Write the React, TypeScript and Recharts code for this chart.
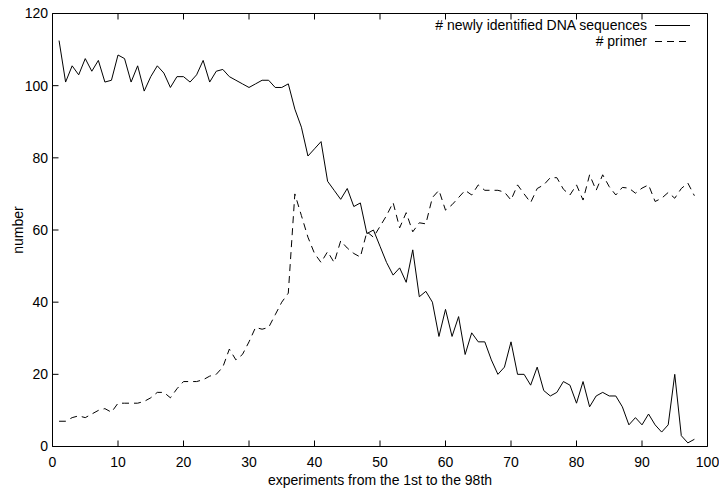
import { LineChart, Line, XAxis, YAxis } from "recharts";

const experiments = Array.from({ length: 98 }, (_, i) => i + 1);

const newlyIdentified = [
  112.5, 101, 105.5, 103, 107.5, 104, 107, 101, 101.5, 108.5,
  107.5, 101, 105.5, 98.5, 102.5, 105.5, 103.5, 99.5, 102.5, 102.5,
  101, 103, 107, 101, 104, 104.5, 102.5, 101.5, 100.5, 99.5,
  100.5, 101.5, 101.5, 99.5, 99.5, 100.5, 93.5, 88.5, 80.5, 82.5,
  84.5, 73.5, 71, 68.5, 71.5, 66.5, 67.5, 59, 60, 55.5,
  51, 47.5, 49.5, 45.5, 54.5, 41.5, 43, 40, 30.5, 38,
  30.5, 36, 25.5, 31.5, 29, 29, 24, 20, 22, 29,
  20, 20, 17, 22, 15.5, 14, 15, 18, 17, 12,
  18, 11, 14, 15, 14, 14, 11, 6, 8, 6,
  9, 6, 4, 6, 20, 3, 1, 2,
];

const primer = [
  7, 7, 8, 8.5, 8, 9, 10, 10.5, 9.5, 12,
  12, 12, 12, 12.5, 13.5, 15, 15, 13.5, 16, 18,
  18, 18, 18.5, 19.5, 20, 22, 27, 24, 25.5, 29,
  33, 32.5, 33, 36.5, 40, 42.5, 70, 64, 58, 53.5,
  51, 54, 51, 57, 55, 53.5, 52.5, 59.5, 58, 61,
  64, 67.6, 60.6, 64.8, 59.5, 62, 61.7, 69, 71, 65.5,
  67, 69, 71, 69.7, 72.5, 71, 71, 71, 70.5, 68.3,
  72.5, 70, 67.6, 71.5, 72.5, 74.5, 74.5, 71.3, 69.7, 72.5,
  68.3, 75.3, 71, 75.3, 72, 69.7, 71.8, 71.6, 70.2, 71.6,
  72.5, 67.9, 68.8, 70.4, 68.8, 71.5, 73, 69.5,
];

const xTicks = [0, 10, 20, 30, 40, 50, 60, 70, 80, 90, 100];
const yTicks = [0, 20, 40, 60, 80, 100, 120];

const data = experiments.map((x, i) => ({
  x,
  newly: newlyIdentified[i],
  primer: primer[i],
}));

const font = "'Liberation Sans', Arial, sans-serif";
const TICK = 6;
const X_MARGIN = 10.5;
const Y_MARGIN = 4.5;

// gnuplot style: tick marks point into the plot
const BottomTick = (p: any) => (
  <g>
    <line x1={p.x} x2={p.x} y1={p.y - X_MARGIN} y2={p.y - X_MARGIN - TICK} stroke="#000" />
    <text x={p.x} y={p.y} dy="0.71em" textAnchor="middle" fontSize={14} fontFamily={font} fill="#000">
      {p.payload.value}
    </text>
  </g>
);

const LeftTick = (p: any) => (
  <g>
    <line x1={p.x + Y_MARGIN} x2={p.x + Y_MARGIN + TICK} y1={p.y} y2={p.y} stroke="#000" />
    <text x={p.x} y={p.y} dy="0.355em" textAnchor="end" fontSize={14} fontFamily={font} fill="#000">
      {p.payload.value}
    </text>
  </g>
);

const TopTick = (p: any) => (
  <line x1={p.x} x2={p.x} y1={p.y} y2={p.y + TICK} stroke="#000" />
);

const RightTick = (p: any) => (
  <line x1={p.x} x2={p.x - TICK} y1={p.y} y2={p.y} stroke="#000" />
);

const yLabel = (props: any) => {
  const vb = props.viewBox;
  const cx = 18;
  const cy = vb.y + vb.height / 2;
  return (
    <text
      x={cx}
      y={cy}
      transform={`rotate(-90 ${cx} ${cy})`}
      textAnchor="middle"
      dominantBaseline="central"
      fontSize={14}
      fontFamily={font}
      fill="#000"
    >
      number
    </text>
  );
};

function LegendRow({ label, dash }: { label: string; dash?: string }) {
  return (
    <div style={{ display: "flex", justifyContent: "flex-end", alignItems: "center", height: 16 }}>
      <span style={{ fontSize: 14, fontFamily: font, color: "#000", lineHeight: "16px" }}>{label}</span>
      <svg width={43} height={16} style={{ display: "block" }}>
        <line x1={8} x2={43} y1={8.5} y2={8.5} stroke="#000" strokeWidth={1} strokeDasharray={dash} />
      </svg>
    </div>
  );
}

export default function App() {
  return (
    <div style={{ position: "absolute", left: 0, top: 0, width: 719, height: 492, background: "#fff" }}>
      <LineChart
        width={719}
        height={492}
        data={data}
        margin={{ top: 12.5, right: 10.5, left: 0, bottom: 0 }}
      >
        <XAxis
          dataKey="x"
          type="number"
          domain={[0, 100]}
          ticks={xTicks}
          interval={0}
          height={45.5}
          tickSize={0}
          tickMargin={X_MARGIN}
          tickLine={false}
          tick={BottomTick}
          stroke="#000"
          label={{
            value: "experiments from the 1st to the 98th",
            position: "insideBottom",
            offset: 7,
            fill: "#000",
            fontSize: 14,
            fontFamily: font,
          }}
        />
        <XAxis
          xAxisId="top"
          orientation="top"
          dataKey="x"
          type="number"
          domain={[0, 100]}
          ticks={xTicks}
          interval={0}
          height={1}
          tickSize={0}
          tickMargin={0}
          tickLine={false}
          tick={TopTick}
          stroke="#000"
        />
        <YAxis
          type="number"
          domain={[0, 120]}
          ticks={yTicks}
          interval={0}
          width={52.5}
          tickSize={0}
          tickMargin={Y_MARGIN}
          tickLine={false}
          tick={LeftTick}
          stroke="#000"
          label={yLabel}
        />
        <YAxis
          yAxisId="right"
          orientation="right"
          type="number"
          domain={[0, 120]}
          ticks={yTicks}
          interval={0}
          width={1}
          tickSize={0}
          tickMargin={0}
          tickLine={false}
          tick={RightTick}
          stroke="#000"
        />
        <Line
          type="linear"
          dataKey="newly"
          stroke="#000"
          strokeWidth={1}
          dot={false}
          isAnimationActive={false}
        />
        <Line
          type="linear"
          dataKey="primer"
          stroke="#000"
          strokeWidth={1}
          strokeDasharray="7 5"
          dot={false}
          isAnimationActive={false}
        />
      </LineChart>
      <div style={{ position: "absolute", top: 17, right: 29 }}>
        <LegendRow label="# newly identified DNA sequences" />
        <LegendRow label="# primer" dash="7 5" />
      </div>
    </div>
  );
}
